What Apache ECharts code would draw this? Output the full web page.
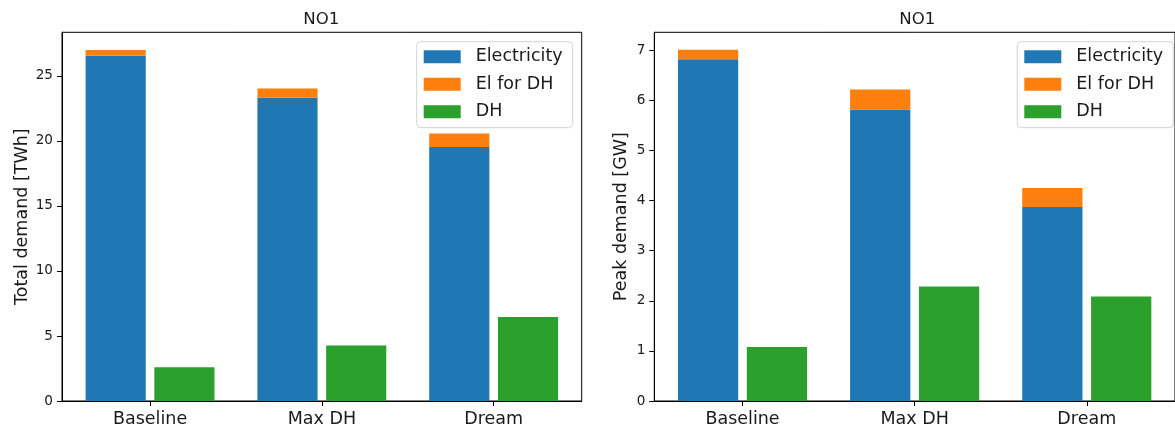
<!DOCTYPE html>
<html>
<head>
<meta charset="utf-8">
<script src="https://cdn.jsdelivr.net/npm/echarts@6/dist/echarts.min.js"></script>
<style>
  html, body { margin: 0; padding: 0; background: #fff; }
  #chart { width: 1175px; height: 428px; }
</style>
</head>
<body>
<div id="chart"></div>
<script>
// Scenario categories and tick labels
const categories = ['Baseline', 'Max DH', 'Dream'];
const seriesNames = ['Electricity', 'El for DH', 'DH'];

// Total demand [TWh]
const totalElectricity = [26.55, 23.31, 19.54];
const totalElForDH = [0.43, 0.71, 1.02];
const totalDH = [2.60, 4.26, 6.46];
const totalTicks = [0, 5, 10, 15, 20, 25];

// Peak demand [GW]
const peakElectricity = [6.82, 5.82, 3.875];
const peakElForDH = [0.19, 0.40, 0.375];
const peakDH = [1.08, 2.285, 2.085];
const peakTicks = [0, 1, 2, 3, 4, 5, 6, 7];

const COLORS = ['#1f77b4', '#ff7f0e', '#2ca02c'];
const FONT = 'DejaVu Sans';
const BAR_W = 0.35;   // bar width in category units
const BAR_OFF = 0.2;  // offset of each bar from the category centre

// Rectangle from [x, yLow, yHigh] using the axis scales
function barRenderer(offset) {
  return function (params, api) {
    const x = api.value(0);
    const lo = api.value(1);
    const hi = api.value(2);
    const p0 = api.coord([x + offset - BAR_W / 2, hi]);
    const p1 = api.coord([x + offset + BAR_W / 2, lo]);
    return {
      type: 'rect',
      shape: { x: p0[0], y: p0[1], width: p1[0] - p0[0], height: p1[1] - p0[1] },
      style: api.style()
    };
  };
}

function stackRows(base, top) {
  return categories.map((c, i) => [i, base ? base[i] : 0, (base ? base[i] : 0) + top[i]]);
}

function panelSeries(gridIdx, elec, elDH, dh) {
  return [
    { name: seriesNames[0], data: stackRows(null, elec), offset: -BAR_OFF, color: COLORS[0] },
    { name: seriesNames[1], data: stackRows(elec, elDH), offset: -BAR_OFF, color: COLORS[1] },
    { name: seriesNames[2], data: stackRows(null, dh), offset: BAR_OFF, color: COLORS[2] }
  ].map(s => ({
    type: 'custom',
    name: s.name,
    xAxisIndex: gridIdx,
    yAxisIndex: gridIdx,
    renderItem: barRenderer(s.offset),
    itemStyle: { color: s.color },
    encode: { x: 0, y: [1, 2] },
    data: s.data,
    silent: true
  }));
}

function xAxisFor(gridIdx) {
  return {
    type: 'value',
    gridIndex: gridIdx,
    min: -0.5125,
    max: 2.5125,
    splitLine: { show: false },
    axisLine: { show: true, onZero: false, lineStyle: { color: '#000', width: 1 } },
    axisTick: { show: true, customValues: [0, 1, 2], length: 5, lineStyle: { color: '#000' } },
    axisLabel: {
      customValues: [0, 1, 2],
      formatter: v => categories[Math.round(v)],
      fontFamily: FONT, fontSize: 17.5, color: '#1a1a1a', margin: 9
    }
  };
}

function yAxisFor(gridIdx, max, ticks, name, nameGap) {
  return {
    type: 'value',
    gridIndex: gridIdx,
    position: 'left',
    min: ticks[0],
    max: max,
    interval: ticks[1] - ticks[0],
    name: name,
    nameLocation: 'middle',
    nameGap: nameGap,
    nameTextStyle: { fontFamily: FONT, fontSize: 17.5, color: '#1a1a1a' },
    splitLine: { show: false },
    axisLine: { show: true, onZero: false, lineStyle: { color: '#000', width: 1 } },
    axisTick: { show: true, inside: false, length: 5, lineStyle: { color: '#000' } },
    axisLabel: {
      fontFamily: FONT, fontSize: 13.6, color: '#1a1a1a', margin: 9,
      showMaxLabel: false
    }
  };
}

function legendFor(left) {
  return {
    left: left,
    top: 41.7,
    orient: 'vertical',
    icon: 'rect',
    itemWidth: 37,
    itemHeight: 13,
    itemGap: 9.5,
    padding: [6, 10, 7, 7],
    borderColor: '#d3d3d3',
    borderWidth: 1,
    borderRadius: 4,
    backgroundColor: 'rgba(255,255,255,0.8)',
    selectedMode: false,
    textStyle: { fontFamily: FONT, fontSize: 17.5, color: '#1a1a1a', padding: [0, 0, 0, 10] },
    data: seriesNames
  };
}

const chart = echarts.init(document.getElementById('chart'), null, { renderer: 'canvas' });
chart.setOption({
  animation: false,
  backgroundColor: '#fff',
  title: [
    { text: 'NO1', left: 303.3, top: 11, padding: 0,
      textStyle: { fontFamily: FONT, fontSize: 16.6, fontWeight: 'normal', color: '#1a1a1a' } },
    { text: 'NO1', left: 899.3, top: 11, padding: 0,
      textStyle: { fontFamily: FONT, fontSize: 16.6, fontWeight: 'normal', color: '#1a1a1a' } }
  ],
  legend: [legendFor(416.7), legendFor(1017.3)],
  grid: [
    { left: 62, top: 32.3, width: 519.7, height: 370.4, show: true, borderColor: '#000', borderWidth: 1, backgroundColor: 'transparent' },
    { left: 654.3, top: 32.3, width: 526.7, height: 370.4, show: true, borderColor: '#000', borderWidth: 1, backgroundColor: 'transparent' }
  ],
  xAxis: [xAxisFor(0), xAxisFor(1)],
  yAxis: [
    yAxisFor(0, 28.35, totalTicks, 'Total demand [TWh]', 31),
    yAxisFor(1, 7.36, peakTicks, 'Peak demand [GW]', 24)
  ],
  series: [
    ...panelSeries(0, totalElectricity, totalElForDH, totalDH),
    ...panelSeries(1, peakElectricity, peakElForDH, peakDH)
  ]
});
</script>
</body>
</html>
